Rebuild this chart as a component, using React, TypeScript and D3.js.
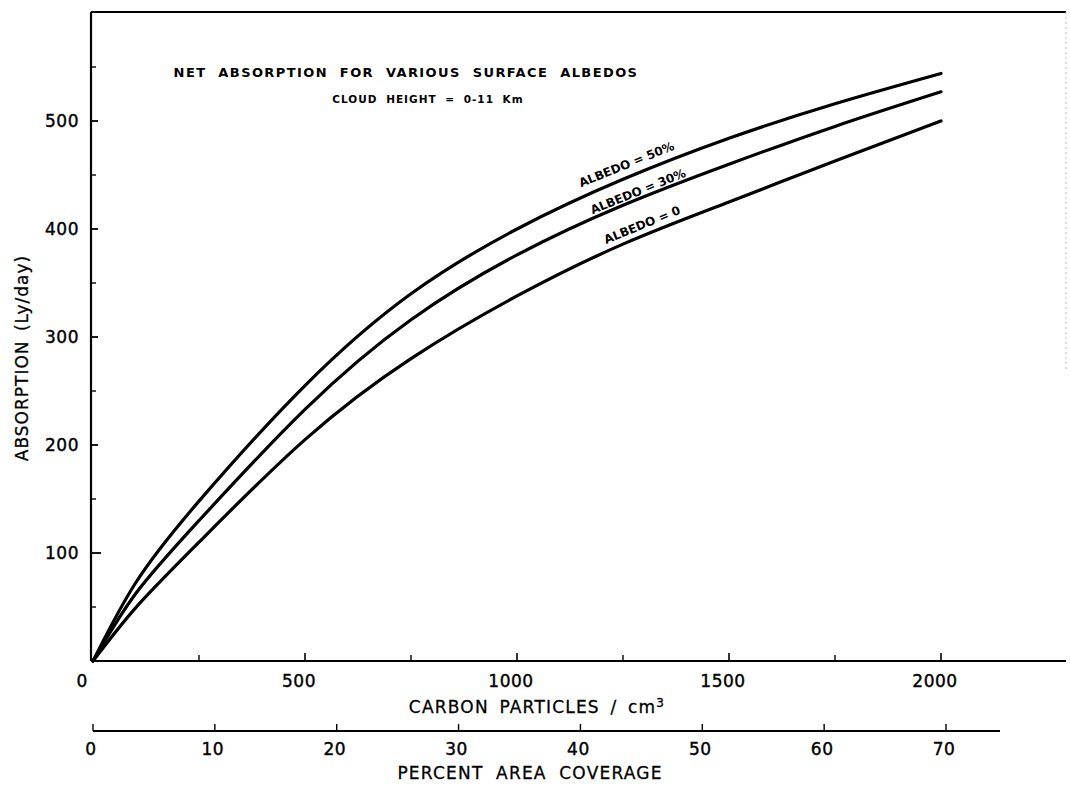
import React from "react";
import * as d3 from "d3";

const particles = [0, 100, 250, 500, 750, 1000, 1250, 1500, 1750, 2000];
const albedo50 = [0, 72, 148, 255, 340, 400, 446, 484, 516, 544];
const albedo30 = [0, 62, 130, 233, 316, 376, 422, 460, 495, 527];
const albedo0 = [0, 49, 110, 205, 280, 338, 386, 425, 463, 500];

const yTicks = [100, 200, 300, 400, 500];
const yMinor = [50, 150, 250, 350, 450, 550];
const xTicks = [500, 1000, 1500, 2000];
const xMinor = [250, 750, 1250, 1750];
const pctTicks = [0, 10, 20, 30, 40, 50, 60, 70];

const curveLabels = [
  { text: "ALBEDO = 50%", x: 1258, y: 460 },
  { text: "ALBEDO = 30%", x: 1285, y: 435 },
  { text: "ALBEDO = 0", x: 1295, y: 404 },
];

const FONT = "'DejaVu Sans', Verdana, sans-serif";

export default function App() {
  const x = d3.scaleLinear().domain([0, 2000]).range([93, 941]);
  const y = d3.scaleLinear().domain([0, 500]).range([661, 121]);
  const pct = d3.scaleLinear().domain([0, 70]).range([93, 946]);

  const line = d3
    .line<number>()
    .x((_, i) => x(particles[i]))
    .y((d) => y(d))
    .curve(d3.curveNatural);

  const series = [albedo50, albedo30, albedo0];
  const left = 91;
  const top = 12;
  const right = 1066;
  const base = 661;
  const pctY = 731;

  return (
    <svg width={1070} height={787} style={{ position: "absolute", left: 0, top: 0, background: "#fff" }}>
      {/* frame */}
      <line x1={left} y1={top} x2={left} y2={base} stroke="#000" strokeWidth={2.2} />
      <line x1={left} y1={top} x2={right} y2={top} stroke="#000" strokeWidth={2} />
      <line x1={left} y1={base} x2={right} y2={base} stroke="#000" strokeWidth={2.2} />
      <line x1={right} y1={top} x2={right} y2={370} stroke="#bbb" strokeWidth={1} strokeDasharray="2 3" />

      {/* y ticks */}
      {yTicks.map((t) => (
        <g key={"yt" + t}>
          <line x1={left} x2={left + (t === 100 ? 10 : 7)} y1={y(t)} y2={y(t)} stroke="#000" strokeWidth={1.8} />
          <text x={79} y={y(t)} dy="0.36em" textAnchor="end" fontFamily={FONT} fontSize={17} letterSpacing={0.5} fill="#000" stroke="#000" strokeWidth={0.4}>
            {t}
          </text>
        </g>
      ))}
      {yMinor.map((t) => (
        <line key={"ym" + t} x1={left} x2={left + 5} y1={y(t)} y2={y(t)} stroke="#000" strokeWidth={1.4} />
      ))}

      {/* x ticks */}
      {xTicks.map((t) => (
        <g key={"xt" + t}>
          <line x1={x(t)} x2={x(t)} y1={base} y2={base - 8} stroke="#000" strokeWidth={1.6} />
          <text x={x(t) - 6} y={681} dy="0.36em" textAnchor="middle" fontFamily={FONT} fontSize={17} letterSpacing={0.5} fill="#000" stroke="#000" strokeWidth={0.4}>
            {t}
          </text>
        </g>
      ))}
      {xMinor.map((t) => (
        <line key={"xm" + t} x1={x(t)} x2={x(t)} y1={base} y2={base - 6} stroke="#000" strokeWidth={1.4} />
      ))}
      <text x={82} y={681} dy="0.36em" textAnchor="middle" fontFamily={FONT} fontSize={17} fill="#000" stroke="#000" strokeWidth={0.4}>
        0
      </text>
      <text x={537} y={707} dy="0.36em" textAnchor="middle" fontFamily={FONT} fontSize={17} letterSpacing={1.2} wordSpacing={4} fill="#000" stroke="#000" strokeWidth={0.3}>
        CARBON PARTICLES / cm
        <tspan fontSize={12} dy="-6">3</tspan>
      </text>

      {/* percent axis */}
      <line x1={pct(0)} y1={pctY} x2={1000} y2={pctY} stroke="#000" strokeWidth={2} />
      {pctTicks.map((t) => (
        <g key={"pt" + t}>
          <line x1={pct(t)} x2={pct(t)} y1={pctY} y2={pctY - 7} stroke="#000" strokeWidth={1.4} />
          <text x={pct(t) - 2} y={749} dy="0.36em" textAnchor="middle" fontFamily={FONT} fontSize={17} letterSpacing={0.5} fill="#000" stroke="#000" strokeWidth={0.4}>
            {t}
          </text>
        </g>
      ))}
      <text x={530} y={773} dy="0.36em" textAnchor="middle" fontFamily={FONT} fontSize={17} letterSpacing={1.2} wordSpacing={6} fill="#000" stroke="#000" strokeWidth={0.3}>
        PERCENT AREA COVERAGE
      </text>

      {/* y axis title */}
      <text
        transform="translate(22,358) rotate(-90)"
        textAnchor="middle"
        dy="0.36em"
        fontFamily={FONT}
        fontSize={17}
        letterSpacing={1}
        wordSpacing={3}
        fill="#000"
        stroke="#000"
        strokeWidth={0.3}
      >
        ABSORPTION (Ly/day)
      </text>

      {/* title */}
      <text x={406} y={72} dy="0.36em" textAnchor="middle" fontFamily={FONT} fontSize={13} fontWeight="bold" letterSpacing={1.4} wordSpacing={6} fill="#000">
        NET ABSORPTION FOR VARIOUS SURFACE ALBEDOS
      </text>
      <text x={428} y={99} dy="0.36em" textAnchor="middle" fontFamily={FONT} fontSize={10.5} fontWeight="bold" letterSpacing={1} wordSpacing={4} fill="#000">
        CLOUD HEIGHT = 0-11 Km
      </text>

      {/* curves */}
      {series.map((s, i) => (
        <path key={"s" + i} d={line(s) || ""} fill="none" stroke="#000" strokeWidth={3.2} strokeLinecap="round" />
      ))}

      {/* curve labels */}
      {curveLabels.map((l) => (
        <text
          key={l.text}
          transform={`translate(${x(l.x)},${y(l.y)}) rotate(-22)`}
          textAnchor="middle"
          dy="0.36em"
          fontFamily={FONT}
          fontSize={12}
          fontWeight="bold"
          fill="#000"
        >
          {l.text}
        </text>
      ))}
    </svg>
  );
}
